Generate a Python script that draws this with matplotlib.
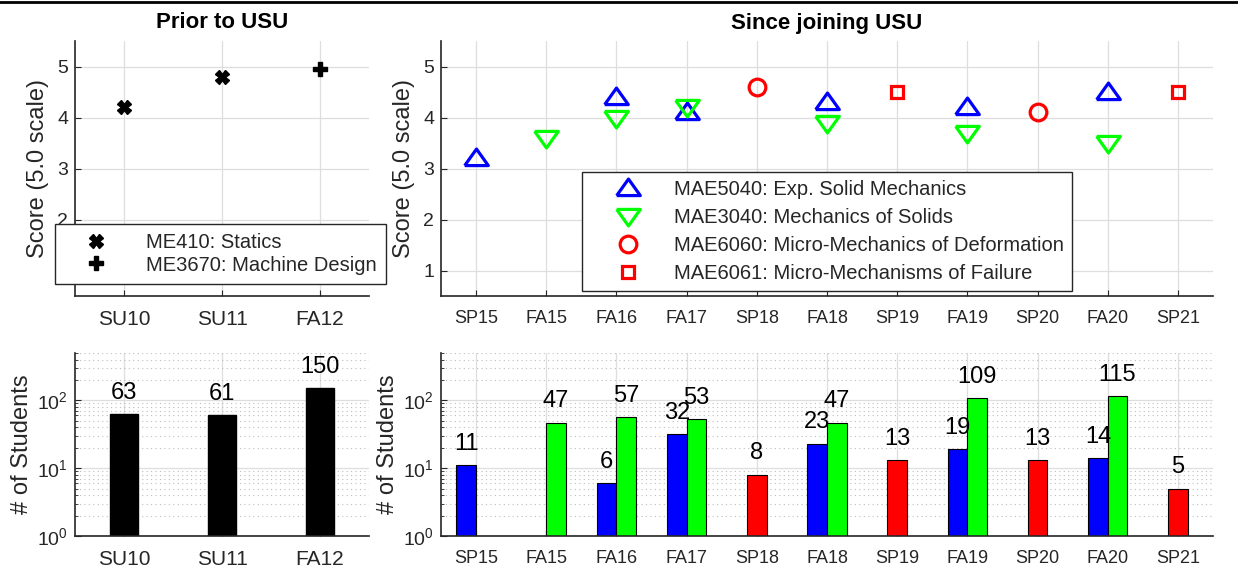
import numpy as np
import matplotlib.pyplot as plt
from matplotlib.lines import Line2D

plt.rcParams['font.family'] = ['Liberation Sans', 'DejaVu Sans']
plt.rcParams['mathtext.fontset'] = 'custom'
plt.rcParams['mathtext.rm'] = 'Liberation Sans'
TXT = '#262626'
nan = np.nan

# prior courses
prior_terms = ['SU10', 'SU11', 'FA12']
me410_score = [4.2, 4.8, nan]
me3670_score = [nan, nan, 4.95]
prior_students = [63, 61, 150]

# courses at USU
terms = ['SP15', 'FA15', 'FA16', 'FA17', 'SP18', 'FA18', 'SP19', 'FA19', 'SP20', 'FA20', 'SP21']
mae5040_score = [3.2, nan, 4.4, 4.1, nan, 4.3, nan, 4.2, nan, 4.5, nan]
mae3040_score = [nan, 3.6, 4.0, 4.2, nan, 3.9, nan, 3.7, nan, 3.5, nan]
mae6060_score = [nan, nan, nan, nan, 4.6, nan, nan, nan, 4.1, nan, nan]
mae6061_score = [nan, nan, nan, nan, nan, nan, 4.5, nan, nan, nan, 4.5]
mae5040_students = [11, 0, 6, 32, 0, 23, 0, 19, 0, 14, 0]
mae3040_students = [0, 47, 57, 53, 0, 47, 0, 109, 0, 115, 0]
grad_students = [0, 0, 0, 0, 8, 0, 13, 0, 13, 0, 5]   # MAE6060 / MAE6061

# wide, flat triangles
tri_up = [(-1, -0.6), (1, -0.6), (0, 0.8), (-1, -0.6)]
tri_dn = [(-1, 0.6), (1, 0.6), (0, -0.8), (-1, 0.6)]

fig = plt.figure(figsize=(12.38, 5.68), dpi=100)
W, H = 1238.0, 568.0


def box(l, t, r, b):
    return [l / W, 1 - b / H, (r - l) / W, (b - t) / H]


ax1 = fig.add_axes(box(75, 41, 369, 296))
ax2 = fig.add_axes(box(441, 41, 1213, 296))
ax3 = fig.add_axes(box(75, 353, 369, 536))
ax4 = fig.add_axes(box(441, 353, 1213, 536))


def style(ax, xsize, log=False):
    for s in ['top', 'right']:
        ax.spines[s].set_visible(False)
    for s in ['left', 'bottom']:
        ax.spines[s].set_color(TXT)
        ax.spines[s].set_linewidth(1.2)
    ax.set_axisbelow(True)
    ax.grid(True, which='major', color='#dedede', lw=0.9)
    ax.tick_params(direction='in', length=4, color=TXT, labelcolor=TXT)
    ax.tick_params(axis='x', pad=10, labelsize=xsize)
    ax.tick_params(axis='y', pad=5, labelsize=14)
    if log:
        ax.grid(True, which='minor', axis='y', color='#bdbdbd', lw=0.8, ls=(0, (1, 3)))
        ax.tick_params(which='minor', direction='in', length=2.5, color=TXT)


# ---- prior scores
x1 = np.arange(1, len(prior_terms) + 1)
ax1.plot(x1, me410_score, ls='none', marker='X', ms=10, color='k', mec='k', label='ME410: Statics')
ax1.plot(x1, me3670_score, ls='none', marker='P', ms=10, color='k', mec='k', label='ME3670: Machine Design')
ax1.set_xlim(0.5, len(prior_terms) + 0.5)
ax1.set_ylim(0.5, 5.5)
ax1.set_yticks([1, 2, 3, 4, 5])
ax1.set_xticks(x1, prior_terms)
style(ax1, 15)
ax1.set_ylabel('Score (5.0 scale)', fontsize=17, color=TXT, labelpad=6)
ax1.set_title('Prior to USU', fontsize=16, fontweight='bold', pad=9)
leg1 = ax1.legend(loc='center', bbox_to_anchor=(220.5 / W, 1 - 254 / H), bbox_transform=fig.transFigure,
                  fontsize=14.5, frameon=True, fancybox=False, framealpha=1, edgecolor=TXT,
                  handlelength=3.2, handletextpad=0.9, labelspacing=0.15, borderpad=0.45,
                  borderaxespad=0)
leg1.get_frame().set_linewidth(1.0)
for t in leg1.get_texts():
    t.set_color(TXT)

# ---- USU scores
x2 = np.arange(1, len(terms) + 1)
mk = dict(ls='none', mfc='none', mew=2.3)
ax2.plot(x2, mae5040_score, marker=tri_up, ms=17, mec='#0000ff', label='MAE5040: Exp. Solid Mechanics', **mk)
ax2.plot(x2, mae3040_score, marker=tri_dn, ms=17, mec='#00ff00', label='MAE3040: Mechanics of Solids', **mk)
ax2.plot(x2, mae6060_score, marker='o', ms=12, mec='#ff0000', label='MAE6060: Micro-Mechanics of Deformation', **mk)
ax2.plot(x2, mae6061_score, marker='s', ms=9, mec='#ff0000', label='MAE6061: Micro-Mechanisms of Failure', **mk)
ax2.set_xlim(0.5, len(terms) + 0.5)
ax2.set_ylim(0.5, 5.5)
ax2.set_yticks([1, 2, 3, 4, 5])
ax2.set_xticks(x2, terms)
style(ax2, 13)
ax2.set_ylabel('Score (5.0 scale)', fontsize=17, color=TXT, labelpad=6)
ax2.set_title('Since joining USU', fontsize=16, fontweight='bold', pad=9)
leg2 = ax2.legend(loc='center', bbox_to_anchor=(827 / W, 1 - 231.5 / H), bbox_transform=fig.transFigure,
                  fontsize=14.5, frameon=True, fancybox=False, framealpha=1,
                  edgecolor=TXT, handlelength=3.7, handletextpad=0.45, labelspacing=0.45,
                  borderpad=0.4, borderaxespad=0)
leg2.get_frame().set_linewidth(1.0)
for t in leg2.get_texts():
    t.set_color(TXT)


def label_bar(ax, x, v):
    ax.annotate(str(v), (x, v), xytext=(0, 11), textcoords='offset points',
                ha='center', va='baseline', fontsize=17, color='k')


# ---- prior class sizes
ax3.set_yscale('log')
ax3.bar(x1, prior_students, width=0.29, color='k', edgecolor='k')
for xi, v in zip(x1, prior_students):
    label_bar(ax3, xi, v)
ax3.set_xlim(0.5, len(prior_terms) + 0.5)
ax3.set_ylim(1, 500)
ax3.set_yticks([1, 10, 100])
ax3.set_xticks(x1, prior_terms)
style(ax3, 15, log=True)
ax3.set_ylabel('# of Students', fontsize=17, color=TXT, labelpad=3)

# ---- USU class sizes
ax4.set_yscale('log')
bw = 0.28
groups = [(mae5040_students, -bw / 2, '#0000ff'),
          (mae3040_students, bw / 2, '#00ff00'),
          (grad_students, 0.0, '#ff0000')]
for counts, off, col in groups:
    for xi, v in zip(x2, counts):
        if v > 0:
            ax4.bar(xi + off, v, width=bw, color=col, edgecolor='k', lw=0.8)
            label_bar(ax4, xi + off, v)
ax4.set_xlim(0.5, len(terms) + 0.5)
ax4.set_ylim(1, 500)
ax4.set_yticks([1, 10, 100])
ax4.set_xticks(x2, terms)
style(ax4, 13, log=True)
ax4.set_ylabel('# of Students', fontsize=17, color=TXT, labelpad=3)

# rule across the top
fig.add_artist(Line2D([0, 1], [1 - 1.5 / H, 1 - 1.5 / H], transform=fig.transFigure, color='k', lw=2))

fig.savefig('out.png', dpi=100)
